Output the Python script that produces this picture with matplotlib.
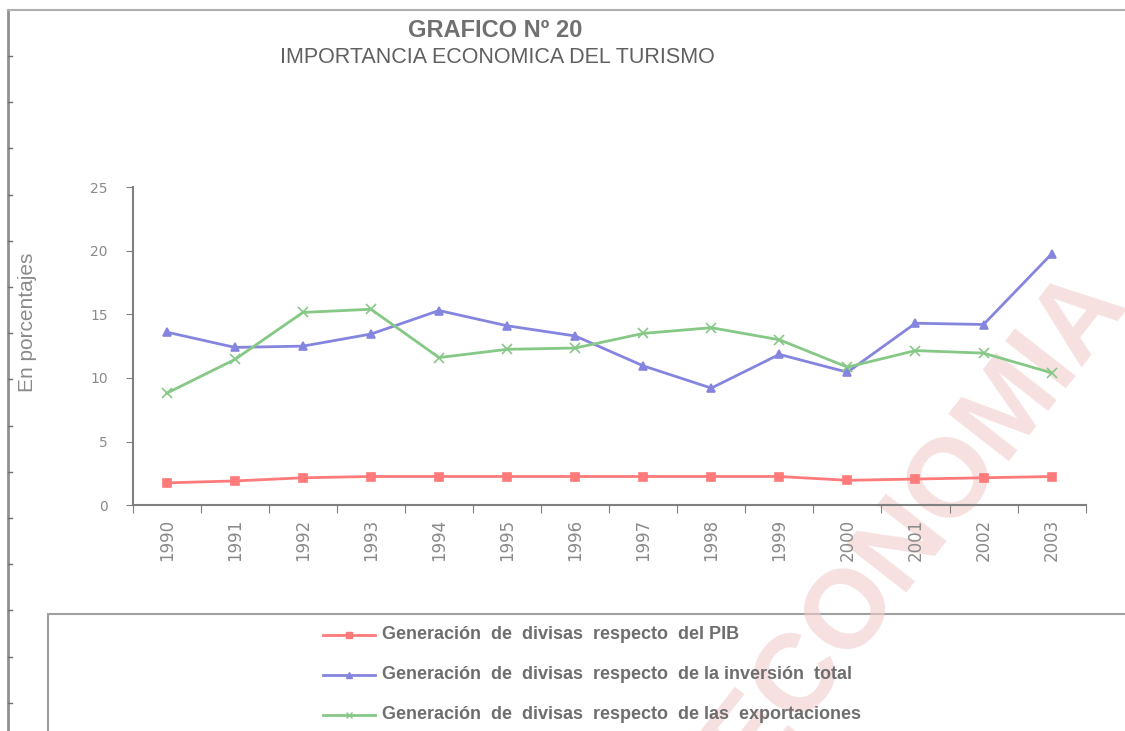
import matplotlib.pyplot as plt
from matplotlib.patches import Rectangle
from matplotlib.lines import Line2D

# data
years = [str(y) for y in range(1990, 2004)]
pib = [1.75, 1.9, 2.15, 2.25, 2.25, 2.25, 2.25, 2.25, 2.25, 2.25, 1.95, 2.05, 2.15, 2.25]
inversion = [13.6, 12.4, 12.5, 13.45, 15.3, 14.1, 13.3, 10.95, 9.2, 11.85, 10.45, 14.3, 14.2, 19.75]
exportaciones = [8.8, 11.45, 15.15, 15.4, 11.6, 12.25, 12.35, 13.5, 13.95, 13.0, 10.85, 12.15, 11.95, 10.4]

labels = ["Generación  de  divisas  respecto  del PIB",
          "Generación  de  divisas  respecto  de la inversión  total",
          "Generación  de  divisas  respecto  de las  exportaciones"]
colors = ["#ff7a7a", "#8585e0", "#86c886"]
markers = ["s", "^", "x"]

fig = plt.figure(figsize=(11.25, 7.31), dpi=100)
ax = fig.add_axes([0.118, 0.309, 0.847, 0.435])
ax.patch.set_alpha(0)

x = range(len(years))
for vals, c, m in zip([pib, inversion, exportaciones], colors, markers):
    ms = 6 if m != "x" else 7
    ax.plot(x, vals, color=c, marker=m, markersize=ms, linewidth=2, markeredgewidth=1.2)

ax.set_xlim(-0.5, len(years) - 0.5)
ax.set_ylim(0, 25)
ax.set_yticks([0, 5, 10, 15, 20, 25])
ax.set_xticks([i - 0.5 for i in range(len(years) + 1)], minor=False)
ax.set_xticklabels([])
ax.set_xticks(list(x), minor=True)
ax.set_xticklabels(years, minor=True, rotation=90, fontsize=12, color="#8a8a8a")
ax.tick_params(axis="x", which="minor", length=0, pad=10)
ax.tick_params(axis="x", which="major", length=6, color="#808080", direction="out")
ax.tick_params(axis="y", length=5, color="#808080", labelsize=10, labelcolor="#8a8a8a", pad=13)
for s in ["top", "right"]:
    ax.spines[s].set_visible(False)
for s in ["left", "bottom"]:
    ax.spines[s].set_color("#808080")
    ax.spines[s].set_linewidth(1.5)

ax.set_ylabel("En porcentajes", fontsize=15, color="#8a8a8a", labelpad=0,
              family="Liberation Sans")
ax.yaxis.set_label_coords(-0.101, 0.575)

fig.text(0.44, 0.958, "GRAFICO Nº 20", ha="center", va="center", fontsize=17,
         fontweight="bold", color="#707070", family="Liberation Sans")
fig.text(0.442, 0.921, "IMPORTANCIA ECONOMICA DEL TURISMO", ha="center", va="center",
         fontsize=15.5, color="#606060", family="Liberation Sans")

# frame lines of the original sheet
fig.add_artist(Line2D([0.007, 0.007], [0, 0.986], color="#909090", lw=2))
fig.add_artist(Line2D([0.007, 1.0], [0.986, 0.986], color="#b0b0b0", lw=1.5))
for k in range(15):
    yy = 1 - (56 + 46.2 * k) / 731
    fig.add_artist(Line2D([0.007, 0.011], [yy, yy], color="#707070", lw=1))

# watermark, under the lines
fig.add_artist(Rectangle((0.043, -0.01), 0.97, 0.17, facecolor="white",
                         edgecolor="#a0a0a0", lw=1.5, zorder=-2))
fig.text(0.815, 0.285, "ECONOMIA", rotation=52, ha="center", va="center",
         fontsize=80, color="#f0cccc", alpha=0.6, family="Liberation Sans",
         fontweight="bold", zorder=-1)

# legend entries
ys = [0.132, 0.077, 0.022]
for lab, c, m, yy in zip(labels, colors, markers, ys):
    fig.add_artist(Line2D([0.287, 0.310, 0.333], [yy, yy, yy], color=c, lw=2,
                          marker=m, markevery=[1], markersize=5))
    fig.text(0.340, yy, lab, va="center", fontsize=13, color="#6e6e6e",
             fontweight="bold", family="Liberation Sans")

fig.savefig("out.png", dpi=100)
